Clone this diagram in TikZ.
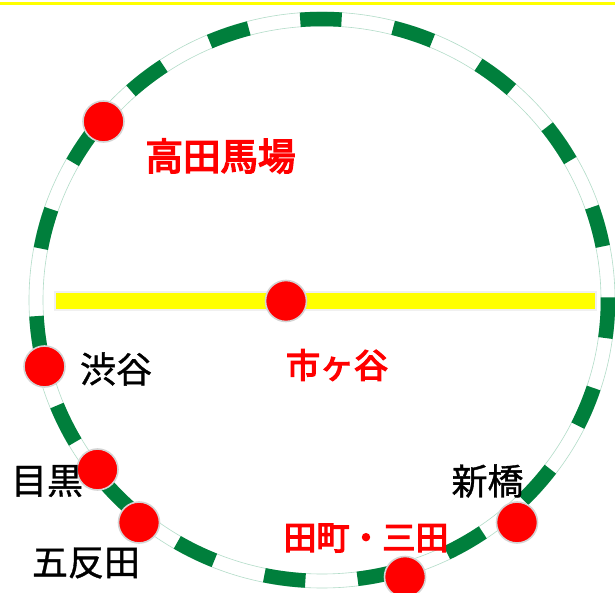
\documentclass[tikz,border=0pt]{standalone}
\usepackage{fontspec}
\setmainfont{Noto Sans CJK JP}
\newfontfamily\redfont[FakeBold=4]{Noto Sans CJK JP}
\newfontfamily\blackfont[FakeBold=1]{Noto Sans CJK JP}
\definecolor{railgreen}{RGB}{0,127,60}
\definecolor{ringgreen}{RGB}{178,220,200}
\definecolor{baryellow}{RGB}{255,255,0}
\definecolor{dotred}{RGB}{255,0,0}
\begin{document}
\begin{tikzpicture}[x=1pt,y=-1pt,
		ringline/.style={draw=ringgreen,line width=0.6pt},
		raildash/.style={draw=railgreen,line width=14.5pt},
		stationdot/.style={circle,fill=dotred,draw=black!17,line width=1.6pt,minimum size=41pt,inner sep=0pt},
		redlabel/.style={text=dotred,font=\redfont\fontsize{33}{33}\selectfont,inner sep=0pt},
		blacklabel/.style={text=black,font=\blackfont\fontsize{36}{36}\selectfont,inner sep=0pt}]
		\clip (0,0) rectangle (615,593);
		\fill[white] (0,0) rectangle (615,593);
		
		\coordinate (topleft) at (0,3.5);
		\coordinate (topright) at (615,3.5);
		\draw[baryellow,line width=2.2pt] (topleft) -- (topright);
		
		\coordinate (center) at (322,300);
		\draw[ringline] (center) ellipse [x radius=293,y radius=288];
		\draw[ringline] (center) ellipse [x radius=279,y radius=274];
		\foreach \k in {0,...,18} {
			\draw[raildash] ({322+286*cos(190.55+\k*18.77)},{300+281*sin(190.55+\k*18.77)})
				arc [start angle=190.55+\k*18.77,delta angle=8.3,x radius=286,y radius=281];
		}
		
		\node[fill=baryellow,draw=black!6,line width=1.5pt,minimum width=541pt,minimum height=18pt,inner sep=0pt] (bar) at (325.5,301) {};
		
		\node[stationdot] (takadanobaba) at (103.5,121.5) {};
		\node[stationdot] (ichigaya) at (286,301) {};
		\node[stationdot] (shibuya) at (44.5,366.5) {};
		\node[stationdot] (meguro) at (97.5,469.5) {};
		\node[stationdot] (gotanda) at (139,522.5) {};
		\node[stationdot] (tamachi) at (405,577) {};
		\node[stationdot] (shinbashi) at (517,522.5) {};
		
		\node[redlabel,font=\redfont\fontsize{37.5}{37.5}\selectfont] (ltakadanobaba) at (220.5,156) {高田馬場};
		\node[redlabel,font=\redfont\fontsize{34}{34}\selectfont] (lichigaya) at (337,365) {市ヶ谷};
		\node[redlabel] (ltamachi) at (366,538) {田町・三田};
		\node[blacklabel] (lshibuya) at (116,369) {渋谷};
		\node[blacklabel] (lmeguro) at (47,481) {目黒};
		\node[blacklabel] (lgotanda) at (86,563) {五反田};
		\node[blacklabel] (lshinbashi) at (487.5,481) {新橋};
\end{tikzpicture}
\end{document}
